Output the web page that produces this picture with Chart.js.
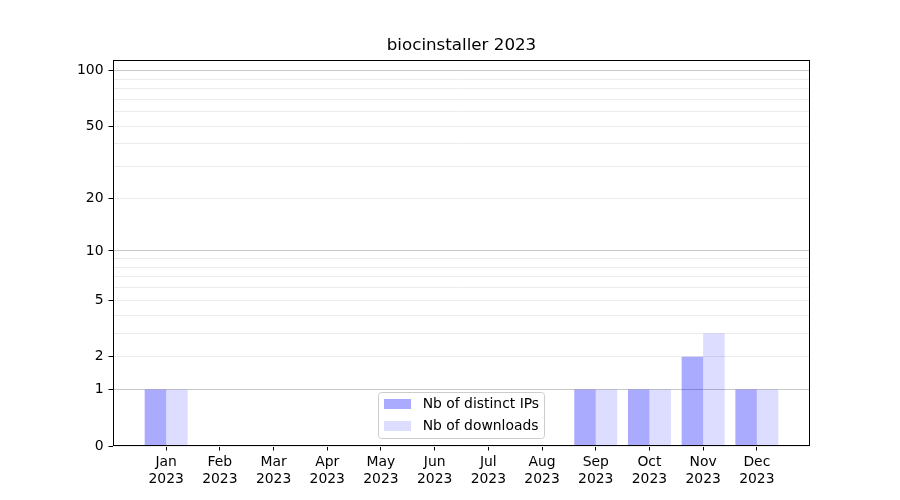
<!DOCTYPE html>
<html>
<head>
<meta charset="utf-8">
<script src="https://cdn.jsdelivr.net/npm/chart.js@4.4.0/dist/chart.umd.min.js"></script>
<style>
  html, body { margin: 0; padding: 0; background: #fff; }
</style>
</head>
<body>
<canvas id="myChart" width="900" height="500"></canvas>
<script>
const months = ['Jan', 'Feb', 'Mar', 'Apr', 'May', 'Jun', 'Jul', 'Aug', 'Sep', 'Oct', 'Nov', 'Dec'];
const year = '2023';
const distinctIPs = [1, 0, 0, 0, 0, 0, 0, 0, 1, 1, 2, 1];
const downloads = [1, 0, 0, 0, 0, 0, 0, 0, 1, 1, 3, 1];
const yTickLabels = [0, 1, 2, 5, 10, 20, 50, 100];
const yGridValues = [0, 1, 2, 3, 4, 5, 6, 7, 8, 9, 10, 20, 30, 40, 50, 60, 70, 80, 90, 100];
const yMajor = [1, 10, 100];

const FONT = 'DejaVu Sans';

// y axis that places values on log10(1 + v)
class Log1pScale extends Chart.LinearScale {
   static id = 'log1p';
   static defaults = Chart.LinearScale.defaults;
   buildTicks() {
      return yGridValues.filter(v => v >= this.min && v <= this.max).map(v => ({ value: v }));
   }
   getPixelForValue(value) {
      const lo = Math.log10(1 + this.min), hi = Math.log10(1 + this.max);
      return this.getPixelForDecimal((Math.log10(1 + value) - lo) / (hi - lo));
   }
   getValueForPixel(pixel) {
      const lo = Math.log10(1 + this.min), hi = Math.log10(1 + this.max);
      return Math.pow(10, lo + this.getDecimalForPixel(pixel) * (hi - lo)) - 1;
   }
}
Chart.register(Log1pScale);

const framePlugin = {
   id: 'frame',
   afterDraw(chart) {
      const ctx = chart.ctx, a = chart.chartArea;
      ctx.save();
      ctx.strokeStyle = '#000';
      ctx.lineWidth = 1;
      ctx.strokeRect(Math.round(a.left) + 0.5, Math.round(a.top) + 0.5,
         Math.round(a.right - a.left) - 1, Math.round(a.bottom - a.top) - 1);

      // legend, lower centre inside the axes
      const items = chart.data.datasets;
      ctx.font = '13.9px "' + FONT + '"';
      const textW = Math.max(...items.map(d => ctx.measureText(d.label).width));
      const w = 5.5 + 27.8 + 11 + textW + 5.5;
      const h = 45.5;
      const x0 = (a.left + a.right) / 2 - w / 2;
      const y0 = a.bottom - 8.5 - h;
      ctx.beginPath();
      ctx.roundRect(Math.round(x0) + 0.5, Math.round(y0) + 0.5, Math.round(w), Math.round(h), 3);
      ctx.fillStyle = 'rgba(255,255,255,0.8)';
      ctx.fill();
      ctx.strokeStyle = '#cccccc';
      ctx.stroke();
      ctx.textBaseline = 'middle';
      items.forEach((d, i) => {
         const cy = y0 + 11.5 + i * 22;
         ctx.fillStyle = d.backgroundColor;
         ctx.fillRect(Math.round(x0) + 6, Math.round(cy - 5), 27, 10);
         ctx.fillStyle = '#000';
         ctx.fillText(d.label, x0 + 5.5 + 27.8 + 11, cy + 1);
      });
      ctx.restore();
   }
};

var ctx = document.getElementById('myChart');
var myChart = new Chart(ctx, {
   type: 'bar',
   data: {
      datasets: [
         {
            label: 'Nb of distinct IPs',
            data: distinctIPs.map((v, i) => ({ x: i, y: v })),
            backgroundColor: 'rgba(0, 0, 255, 0.333)',
            borderWidth: 0,
            barPercentage: 1,
            categoryPercentage: 0.8,
         },
         {
            label: 'Nb of downloads',
            data: downloads.map((v, i) => ({ x: i, y: v })),
            backgroundColor: 'rgba(0, 0, 255, 0.135)',
            borderWidth: 0,
            barPercentage: 1,
            categoryPercentage: 0.8,
         },
      ],
   },
   options: {
      responsive: false,
      animation: false,
      devicePixelRatio: 1,
      layout: { padding: { left: 0, right: 90, top: 0, bottom: 0 } },
      scales: {
         x: {
            type: 'linear',
            min: -0.99,
            max: 11.99,
            offset: false,
            afterBuildTicks: (s) => { s.ticks = months.map((m, i) => ({ value: i })); },
            afterFit: (s) => { s.height = 54; },
            ticks: {
               autoSkip: false,
               maxRotation: 0,
               minRotation: 0,
               padding: 4,
               color: '#000',
               font: { family: FONT, size: 13.9 },
               callback: (v) => [months[v], year],
            },
            grid: { offset: false, drawOnChartArea: false, tickLength: 4.5, tickColor: '#000' },
            border: { display: false },
         },
         y: {
            type: 'log1p',
            min: 0,
            max: 114,
            z: 1,
            afterFit: (s) => { s.width = 113; },
            ticks: {
               autoSkip: false,
               padding: 5,
               color: '#000',
               font: { family: FONT, size: 13.9 },
               callback: (v) => yTickLabels.includes(v) ? String(v) : '',
            },
            grid: {
               tickLength: 4.5,
               color: (c) => yMajor.includes(c.tick.value) ? '#c8c8c8' : '#ebebeb',
               tickColor: (c) => yTickLabels.includes(c.tick.value) ? '#000' : 'rgba(0,0,0,0)',
            },
            border: { display: false },
         },
      },
      plugins: {
         legend: { display: false },
         tooltip: { enabled: false },
         title: {
            display: true,
            fullSize: false,
            text: 'biocinstaller 2023',
            color: '#000',
            font: { family: FONT, size: 16.7, weight: 'normal' },
            padding: { top: 36, bottom: 4 },
         },
      },
   },
   plugins: [framePlugin],
});
</script>
</body>
</html>
